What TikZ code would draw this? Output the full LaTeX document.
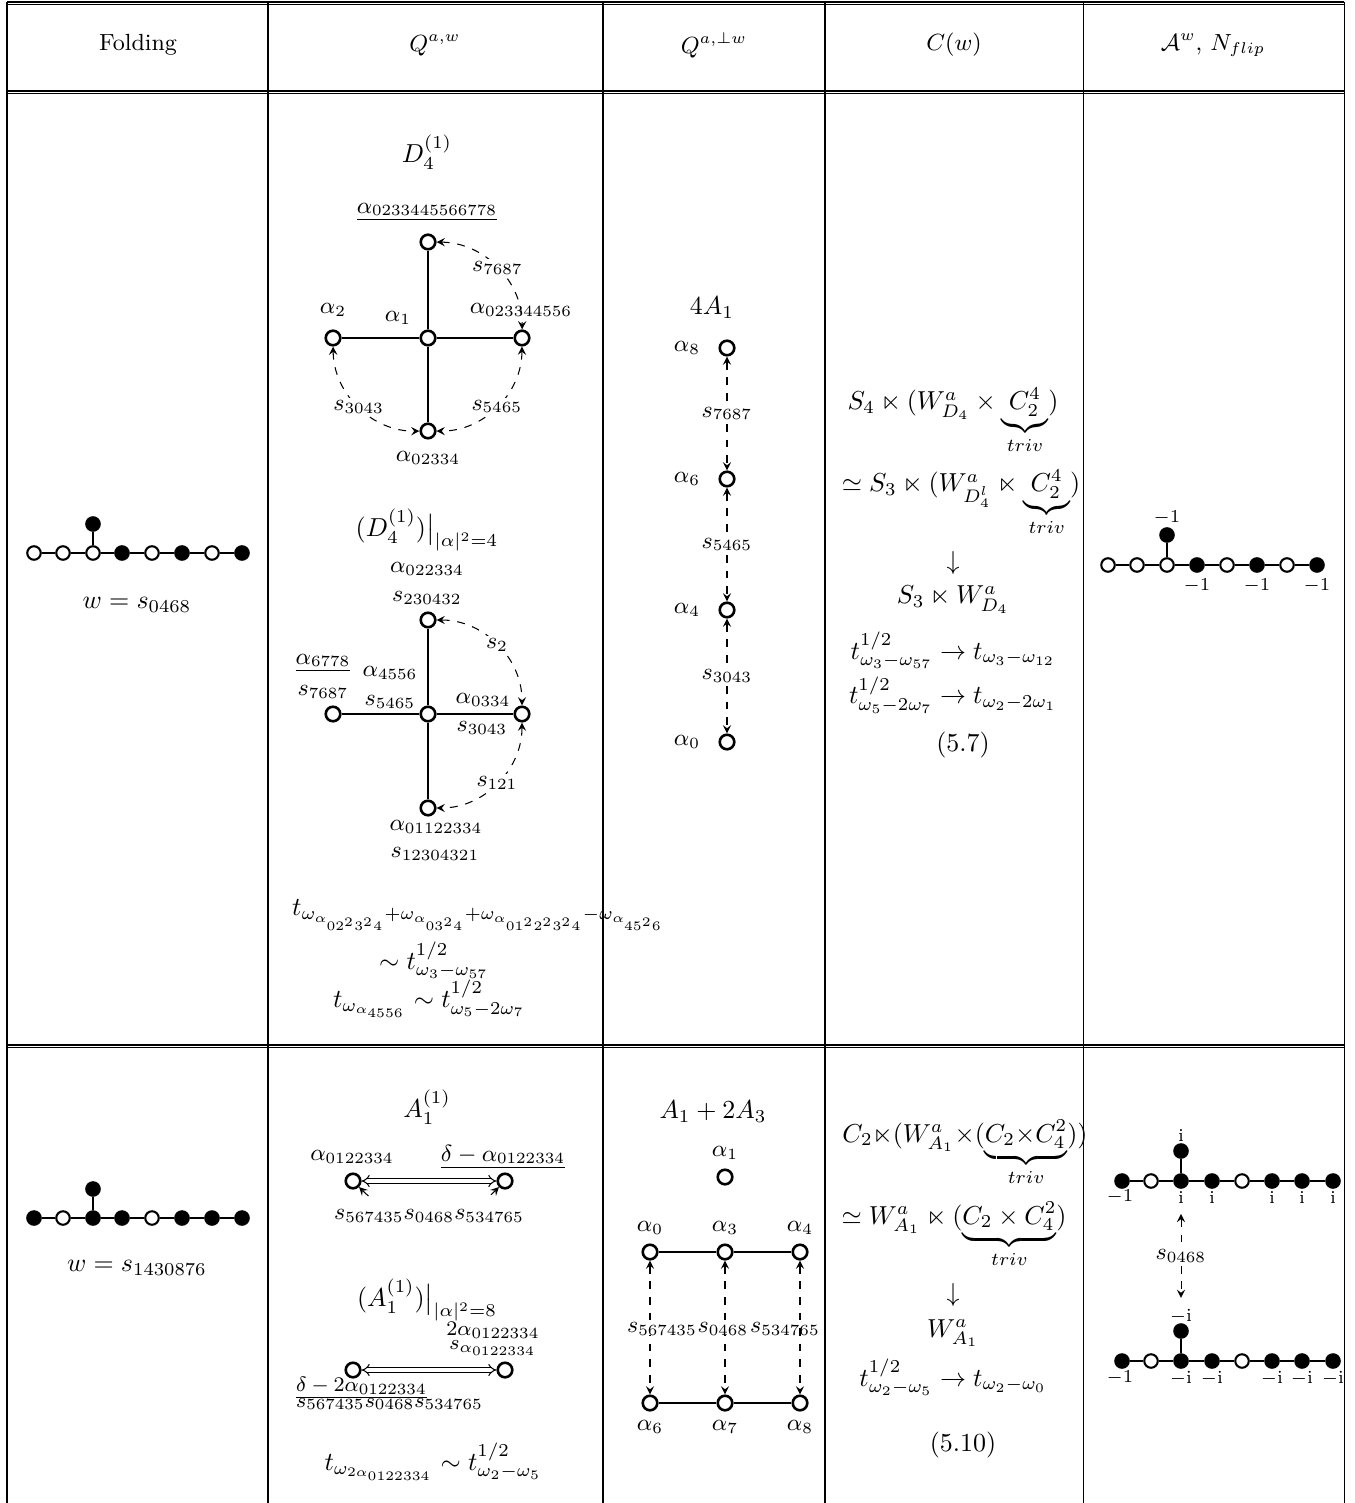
\documentclass[tikz,border=0pt]{standalone}
\usepackage{amsmath}
\usepackage{amssymb}
\usepackage{tikz}
\usetikzlibrary{quotes}
\usetikzlibrary{positioning}
\usetikzlibrary{arrows.meta}

\begin{document}
\begin{tikzpicture}[x=0.385pt, y=-0.385pt, >=stealth,
    rt/.style={circle, draw, line width=1pt, fill=white, inner sep=0pt, minimum size=5.6pt},
    dk/.style={circle, draw, line width=0.8pt, inner sep=0pt, minimum size=5.2pt},
    dyn/.style={line width=1pt},
    tag/.style={font=\scriptsize, inner sep=1pt},
    lab/.style={font=\small, inner sep=1pt},
    flip/.style={dashed, <->},
    dbl/.style={double, double distance=1.2pt, {Implies}-{Implies}},
    every edge quotes/.style={fill=white, inner sep=1pt, font=\small}]
  \useasboundingbox (0,0) rectangle (1354,1503);

  % table rules
  \foreach \y in {2,4.5,91,93.5,1045,1047.5}
    \draw (7,\y) -- (1344,\y);
  \foreach \x in {7,268,603,825,1083,1344}
    \draw (\x,2) -- (\x,1503);

  % header
  \node[font=\small] (hfold) at (138,45) {Folding};
  \node[font=\small] (hq) at (435,45) {$Q^{a,w}$};
  \node[font=\small] (hqp) at (714,45) {$Q^{a,\perp w}$};
  \node[font=\small] (hc) at (954,45) {$C(w)$};
  \node[font=\small] (ha) at (1213,45) {$\mathcal{A}^w$, $N_{flip}$};

  % ---------------- row 1 ----------------
  % folding
  \foreach \n/\x/\c in {1/34/white,2/63/white,3/93/white,4/122/black,5/152/white,6/182/black,7/212/white,8/242/black}
    \node[dk, fill=\c] (f\n) at (\x,553) {};
  \node[dk, fill=black] (f0) at (93,524) {};
  \draw[dyn] (f1) -- (f2) -- (f3) -- (f4) -- (f5) -- (f6) -- (f7) -- (f8) (f3) -- (f0);
  \node (fw) at (137,605) {$w=s_{0468}$};

  % Q^{a,w}: D4
  \node (qtitle) at (427,152) {$D_4^{(1)}$};
  \node[rt] (qt) at (428,242) {};
  \node[rt] (qc) at (428,338) {};
  \node[rt] (ql) at (333,338) {};
  \node[rt] (qr) at (522,338) {};
  \node[rt] (qb) at (428,431) {};
  \draw[dyn] (qc) -- (qt) (qc) -- (ql) (qc) -- (qr) (qc) -- (qb);
  \node[lab] (qtl) at (427,212) {$\underline{\alpha_{0233445566778}}$};
  \node[lab] (qll) at (333,310) {$\alpha_2$};
  \node[lab] (qcl) at (398,318) {$\alpha_1$};
  \node[lab] (qrl) at (521,310) {$\alpha_{023344556}$};
  \node[lab] (qbl) at (428,458) {$\alpha_{02334}$};
  \draw[flip] (qt) to[bend left=45, "$s_{7687}$"] (qr);
  \draw[flip] (qr) to[bend left=45, "$s_{5465}$"] (qb);
  \draw[flip] (ql) to[bend right=45, "$s_{3043}$"] (qb);

  % Q^{a,w}: long roots
  \node (ptitle) at (427,530) {$(D_4^{(1)})\big|_{|\alpha|^2=4}$};
  \node[rt] (pt) at (428,620) {};
  \node[rt] (pc) at (428,714) {};
  \node[rt] (pl) at (333,714) {};
  \node[rt] (pr) at (522,714) {};
  \node[rt] (pb) at (428,808) {};
  \draw[dyn] (pc) -- (pt) (pc) -- (pl) (pc) -- (pr) (pc) -- (pb);
  \node[lab] (pta) at (427,569) {$\alpha_{022334}$};
  \node[lab] (pts) at (427,598) {$s_{230432}$};
  \node[lab] (pla) at (323,663) {$\underline{\alpha_{6778}}$};
  \node[lab] (pls) at (323,692) {$s_{7687}$};
  \node[lab] (pca) at (390,673) {$\alpha_{4556}$};
  \node[lab] (pcs) at (390,702) {$s_{5465}$};
  \node[lab] (pra) at (483,700) {$\alpha_{0334}$};
  \node[lab] (prs) at (482,728) {$s_{3043}$};
  \node[lab] (pba) at (436,827) {$\alpha_{01122334}$};
  \node[lab] (pbs) at (435,854) {$s_{12304321}$};
  \draw[flip] (pt) to[bend left=45, "$s_2$"] (pr);
  \draw[flip] (pr) to[bend left=45, "$s_{121}$"] (pb);

  \node[anchor=west] (qeq1) at (283,915) {$t_{\omega_{\alpha_{02^23^24}}+\omega_{\alpha_{03^24}}+\omega_{\alpha_{01^22^23^24}}-\omega_{\alpha_{45^26}}}$};
  \node (qeq2) at (434,960) {$\sim t^{1/2}_{\omega_3-\omega_{57}}$};
  \node (qeq3) at (429,999) {$t_{\omega_{\alpha_{4556}}}\sim t^{1/2}_{\omega_5-2\omega_7}$};

  % Q^{a,perp w}: 4A1
  \node (atitle) at (712,308) {$4A_1$};
  \foreach \n/\y in {8/348,6/479,4/610,0/742} {
    \node[rt] (a\n) at (727,\y) {};
    \node[lab] (a\n l) at (687,\y) {$\alpha_\n$};
  }
  \draw[flip] (a8) to["$s_{7687}$"] (a6);
  \draw[flip] (a6) to["$s_{5465}$"] (a4);
  \draw[flip] (a4) to["$s_{3043}$"] (a0);

  % C(w)
  \node[anchor=base] (c1a) at (953,410) {$S_4 \ltimes (W^a_{D_4} \times \underbrace{\;C_2^4\;}_{triv})$};
  \node[anchor=base] (c1b) at (961,492) {$\simeq S_3 \ltimes (W^a_{D_4^l} \ltimes \underbrace{\;C_2^4\;}_{triv})$};
  \node (c1c) at (953,563) {$\downarrow$};
  \node (c1d) at (953,600) {$S_3 \ltimes W^a_{D_4}$};
  \node (c1e) at (953,650) {$t^{1/2}_{\omega_3-\omega_{57}} \to t_{\omega_3-\omega_{12}}$};
  \node (c1f) at (953,695) {$t^{1/2}_{\omega_5-2\omega_7} \to t_{\omega_2-2\omega_1}$};
  \node (c1g) at (963,745) {(5.7)};

  % A^w
  \foreach \n/\x/\c in {1/1108/white,2/1137/white,3/1167/white,4/1197/black,5/1227/white,6/1257/black,7/1287/white,8/1317/black}
    \node[dk, fill=\c] (h\n) at (\x,565) {};
  \node[dk, fill=black] (h0) at (1167,535) {};
  \draw[dyn] (h1) -- (h2) -- (h3) -- (h4) -- (h5) -- (h6) -- (h7) -- (h8) (h3) -- (h0);
  \node[tag] (h0l) at (1167,518) {$-1$};
  \foreach \n in {4,6,8}
    \node[tag, below=1pt of h\n] (h\n l) {$-1$};

  % ---------------- row 2 ----------------
  % folding
  \foreach \n/\x/\c in {1/34/black,2/63/white,3/93/black,4/122/black,5/152/white,6/182/black,7/212/black,8/242/black}
    \node[dk, fill=\c] (g\n) at (\x,1218) {};
  \node[dk, fill=black] (g0) at (93,1189) {};
  \draw[dyn] (g1) -- (g2) -- (g3) -- (g4) -- (g5) -- (g6) -- (g7) -- (g8) (g3) -- (g0);
  \node (gw) at (137,1268) {$w=s_{1430876}$};

  % Q^{a,w}: A1
  \node (ctitle) at (427,1107) {$A_1^{(1)}$};
  \node[rt] (cl) at (353,1181) {};
  \node[rt] (cr) at (505,1181) {};
  \node[lab] (cla) at (352,1157) {$\alpha_{0122334}$};
  \node[lab] (cra) at (503,1157) {$\underline{\delta-\alpha_{0122334}}$};
  \draw[flip] (cl) to[bend right=45, "$s_{567435}s_{0468}s_{534765}$" {inner sep=4pt}] (cr);
  \draw[dbl] (cl) -- (cr);

  \node (dtitle) at (427,1300) {$(A_1^{(1)})\big|_{|\alpha|^2=8}$};
  \node[font=\footnotesize, inner sep=1pt] (dra) at (493,1330) {$2\alpha_{0122334}$};
  \node[font=\footnotesize, inner sep=1pt] (drs) at (493,1348) {$s_{\alpha_{0122334}}$};
  \node[rt] (dl) at (353,1370) {};
  \node[rt] (dr) at (505,1370) {};
  \draw[dbl] (dl) -- (dr);
  \node[font=\footnotesize, inner sep=1pt, anchor=west] (dla) at (293,1388) {$\underline{\delta-2\alpha_{0122334}}$};
  \node[font=\footnotesize, inner sep=1pt, anchor=west] (dls) at (293,1404) {$s_{567435}s_{0468}s_{534765}$};
  \node (deq) at (433,1462) {$t_{\omega_{2\alpha_{0122334}}}\sim t^{1/2}_{\omega_2-\omega_5}$};

  % Q^{a,perp w}: A1+2A3
  \node (btitle) at (713,1112) {$A_1+2A_3$};
  \node[rt] (b1) at (725,1177) {};
  \node[lab] (b1l) at (725,1153) {$\alpha_1$};
  \foreach \n/\x in {0/650,3/725,4/800} {
    \node[rt] (b\n) at (\x,1252) {};
    \node[lab] (b\n l) at (\x,1228) {$\alpha_\n$};
  }
  \foreach \n/\x in {6/650,7/725,8/800} {
    \node[rt] (b\n) at (\x,1403) {};
    \node[lab] (b\n l) at (\x,1427) {$\alpha_\n$};
  }
  \draw (b0) -- (b3) -- (b4) (b6) -- (b7) -- (b8);
  \draw[flip] (b0) -- (b6);
  \draw[flip] (b3) -- (b7);
  \draw[flip] (b4) -- (b8);
  \node[lab, fill=white, inner sep=0pt] (bs1) at (662,1329) {$s_{567435}$};
  \node[lab, fill=white, inner sep=0pt] (bs2) at (723,1329) {$s_{0468}$};
  \node[lab, inner sep=0pt] (bs3) at (785,1329) {$s_{534765}$};

  % C(w)
  \node[anchor=base] (c2a) at (965,1142) {$C_2{\ltimes}(W^a_{A_1}{\times}(\underbrace{C_2{\times}C_4^2}_{triv}))$};
  \node[anchor=base] (c2b) at (954,1224) {$\simeq W^a_{A_1} \ltimes (\underbrace{C_2 \times C_4^2}_{triv})$};
  \node (c2c) at (953,1295) {$\downarrow$};
  \node (c2d) at (953,1333) {$W^a_{A_1}$};
  \node (c2e) at (953,1377) {$t^{1/2}_{\omega_2-\omega_5} \to t_{\omega_2-\omega_0}$};
  \node (c2f) at (963,1445) {(5.10)};

  % A^w
  \foreach \n/\x/\c in {1/1122/black,2/1151/white,3/1181/black,4/1212/black,5/1242/white,6/1272/black,7/1302/black,8/1333/black}
    \node[dk, fill=\c] (k\n) at (\x,1181) {};
  \node[dk, fill=black] (k0) at (1181,1151) {};
  \draw[dyn] (k1) -- (k2) -- (k3) -- (k4) -- (k5) -- (k6) -- (k7) -- (k8) (k3) -- (k0);
  \node[tag] (k0l) at (1181,1135) {i};
  \node[tag] (k1l) at (1120,1197) {$-1$};
  \foreach \n/\x in {3/1181,4/1212,6/1272,7/1302,8/1333}
    \node[tag] (k\n l) at (\x,1197) {i};

  \foreach \n/\x/\c in {1/1122/black,2/1151/white,3/1181/black,4/1212/black,5/1242/white,6/1272/black,7/1302/black,8/1333/black}
    \node[dk, fill=\c] (m\n) at (\x,1361) {};
  \node[dk, fill=black] (m0) at (1181,1331) {};
  \draw[dyn] (m1) -- (m2) -- (m3) -- (m4) -- (m5) -- (m6) -- (m7) -- (m8) (m3) -- (m0);
  \node[tag] (m0l) at (1181,1316) {$-\mathrm{i}$};
  \node[tag] (m1l) at (1120,1378) {$-1$};
  \foreach \n/\x in {3/1181,4/1212,6/1272,7/1302,8/1333}
    \node[tag] (m\n l) at (\x,1378) {$-\mathrm{i}$};

  \draw[flip, shorten <=3pt, shorten >=3pt] (k3l) to["$s_{0468}$"] (m0l);
\end{tikzpicture}
\end{document}
